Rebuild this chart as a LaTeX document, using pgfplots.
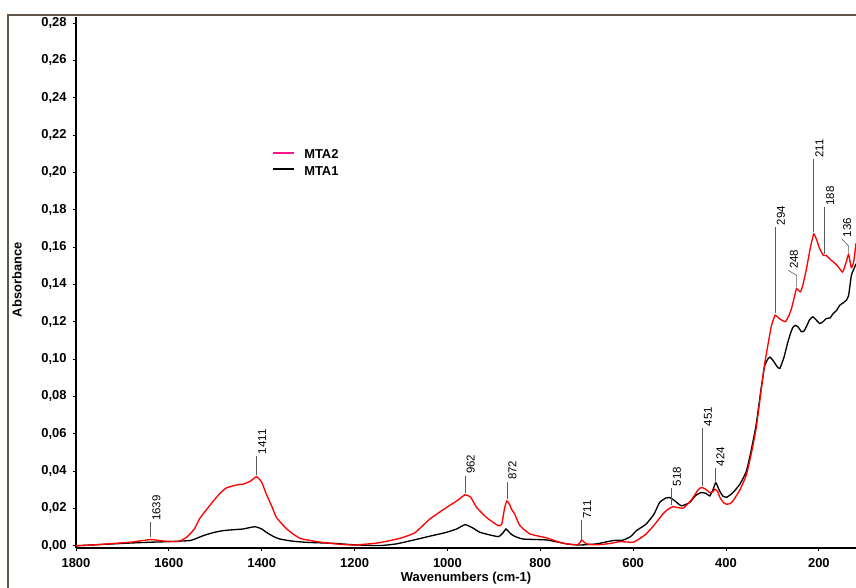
\documentclass[border=0pt]{standalone}
\usepackage{fontspec}
\setmainfont{Liberation Sans}
\usepackage{pgfplots}
\pgfplotsset{compat=1.18}
\definecolor{mtared}{RGB}{255,0,0}
\definecolor{mtapink}{RGB}{255,20,140}
\definecolor{leadgray}{RGB}{90,90,90}
\definecolor{framecol}{RGB}{95,85,75}
\newcommand{\pkfont}{\fontsize{8.6}{10}\selectfont}
\newcommand{\peak}[4]{%
  \draw[leadgray, line width=0.45pt] (axis cs:#1,#2) -- (axis cs:#1,#3);
  \node[rotate=90, anchor=north west, inner sep=1pt, font=\pkfont] at (axis cs:#1,#3) {#4};}
\begin{document}
\begin{tikzpicture}
\useasboundingbox (0pt,0pt) rectangle (642pt,441pt);
\draw[framecol, line width=0.8pt] (6pt,0pt) -- (6pt,429.75pt) -- (642pt,429.75pt);
\begin{axis}[
  at={(57pt,30pt)}, anchor=south west,
  scale only axis, width=585pt, height=398.25pt,
  x dir=reverse, xmin=120, xmax=1800,
  ymin=-0.0012, ymax=0.2832,
  axis lines=left, axis line style={-, line width=1.3pt},
  xtick={200,400,...,1800},
  ytick={0,0.02,...,0.281},
  tick align=outside, major tick length=2.5pt,
  tick style={black, line width=0.6pt},
  /pgf/number format/assume math mode=true,
  tick label style={font=\bfseries\fontsize{9.7}{11}\selectfont},
  x tick label style={/pgf/number format/set thousands separator={}, yshift=-2pt},
  y tick label style={/pgf/number format/.cd, use comma, fixed, fixed zerofill, precision=2, /tikz/.cd, xshift=-1pt},
  xlabel={Wavenumbers (cm-1)}, ylabel={Absorbance},
  label style={font=\bfseries\fontsize{9.7}{11}\selectfont},
  xlabel style={at={(axis description cs:0.5,-0.0565)}, anchor=center},
  ylabel style={at={(axis description cs:-0.0756,0.505)}, anchor=center, rotate=0},
  clip=true,
]
% MTA1 (black)
\addplot[black, line width=1pt, smooth, tension=0.3] coordinates {
(1800,0.0) (1760,0.0005) (1720,0.001) (1680,0.0015) (1640,0.0019) (1600,0.0022)
(1583,0.0024) (1554,0.0028) (1540,0.004) (1526,0.0054) (1505,0.007) (1483,0.0081)
(1460,0.0086) (1440,0.009) (1415,0.0102) (1400,0.009) (1390,0.0072) (1375,0.005)
(1361,0.0036) (1332,0.0024) (1300,0.0018) (1246,0.0013) (1200,0.0005) (1145,0.0001)
(1110,0.001) (1074,0.003) (1040,0.005) (1002,0.0072) (980,0.009) (962,0.0113)
(945,0.0095) (930,0.0072) (891,0.0049) (880,0.007) (874,0.009) (866,0.007)
(858,0.0054) (837,0.0036) (786,0.0031) (743,0.001) (715,0.0004) (679,0.001)
(643,0.0028) (622,0.003) (605,0.005) (593,0.0081) (572,0.0116) (555,0.017)
(543,0.0232) (530,0.0255) (521,0.0258) (510,0.024) (496,0.0214) (478,0.0232)
(465,0.027) (453,0.0285) (443,0.028) (435,0.0267) (428,0.030) (422,0.0338)
(415,0.030) (407,0.0267) (398,0.026) (385,0.0285) (370,0.033) (356,0.040)
(345,0.052) (335,0.065) (325,0.083) (317,0.096) (310,0.100) (305,0.101)
(298,0.099) (290,0.096) (284,0.095) (275,0.101) (268,0.108) (262,0.113)
(256,0.117) (250,0.118) (244,0.117) (238,0.1147) (232,0.115) (227,0.1173)
(220,0.121) (213,0.1226) (206,0.121) (198,0.119) (191,0.120) (184,0.1217)
(176,0.122) (169,0.1244) (162,0.126) (155,0.1288) (148,0.130) (141,0.1315)
(136,0.134) (130,0.1448) (125,0.148) (120,0.151)
};

% MTA2 (red)
\addplot[mtared, line width=1pt, smooth, tension=0.3] coordinates {
(1800,0.0) (1760,0.0005) (1720,0.0012) (1680,0.002) (1639,0.0033) (1610,0.0025)
(1580,0.0023) (1562,0.0045) (1545,0.009) (1533,0.0148) (1504,0.024) (1490,0.028)
(1476,0.031) (1455,0.0325) (1440,0.033) (1425,0.0345) (1411,0.037) (1400,0.034)
(1390,0.0276) (1378,0.021) (1368,0.015) (1346,0.009) (1318,0.004) (1275,0.002)
(1240,0.001) (1203,0.0004) (1150,0.0015) (1102,0.004) (1070,0.007) (1038,0.0143)
(1002,0.0205) (980,0.024) (962,0.0273) (950,0.026) (937,0.0205) (916,0.0152)
(891,0.0108) (883,0.0116) (877,0.02) (872,0.024) (866,0.022) (862,0.0196)
(855,0.0169) (844,0.0108) (822,0.0063) (786,0.0042) (760,0.002) (743,0.001)
(721,0.0005) (715,0.0015) (711,0.0031) (705,0.0018) (700,0.001) (679,0.0005)
(650,0.0012) (629,0.0022) (600,0.0019) (585,0.004) (572,0.0063) (555,0.011)
(536,0.017) (525,0.0195) (514,0.0209) (493,0.0201) (480,0.023) (471,0.0258)
(460,0.030) (453,0.0312) (445,0.0305) (435,0.0285) (428,0.029) (424,0.0303)
(418,0.029) (413,0.0258) (405,0.023) (399,0.0223) (392,0.0225) (385,0.024)
(370,0.030) (356,0.038) (345,0.050) (335,0.063) (325,0.082) (317,0.097)
(308,0.110) (302,0.118) (294,0.1235) (287,0.122) (281,0.121) (272,0.12)
(265,0.123) (259,0.127) (252,0.134) (248,0.1377) (240,0.136) (235,0.139)
(227,0.148) (218,0.160) (211,0.167) (205,0.164) (198,0.159) (190,0.1555)
(184,0.1555) (176,0.1535) (169,0.152) (160,0.150) (149,0.1466) (141,0.152)
(136,0.156) (130,0.149) (125,0.152) (120,0.162)
};

% legend (drawn by hand)
\draw[mtapink, line width=1.4pt] (axis description cs:0.2526,0.7439) -- (axis description cs:0.2790,0.7439);
\node[anchor=west, inner sep=0pt, font=\bfseries\fontsize{9.7}{11}\selectfont] at (axis description cs:0.2923,0.7420) {MTA2};
\draw[black, line width=1.4pt] (axis description cs:0.2526,0.7134) -- (axis description cs:0.2790,0.7134);
\node[anchor=west, inner sep=0pt, font=\bfseries\fontsize{9.7}{11}\selectfont] at (axis description cs:0.2923,0.7100) {MTA1};

\peak{1639}{0.0045}{0.0125}{1639}
\peak{1411}{0.038}{0.0482}{1411}
\peak{962}{0.0283}{0.0376}{962}
\peak{872}{0.025}{0.0344}{872}
\peak{711}{0.0036}{0.0136}{711}
\peak{518}{0.0216}{0.031}{518}
\peak{451}{0.0322}{0.0631}{451}
\peak{424}{0.0349}{0.0418}{424}
\peak{294}{0.1245}{0.1708}{294}
\peak{211}{0.168}{0.207}{211}
\peak{188}{0.1565}{0.1814}{188}
\draw[leadgray, line width=0.45pt] (axis cs:248,0.1387) -- (axis cs:248,0.1448) -- (axis cs:266,0.1475);
\node[rotate=90, anchor=north west, inner sep=1pt, font=\pkfont] at (axis cs:266,0.1475) {248};
\draw[leadgray, line width=0.45pt] (axis cs:136,0.157) -- (axis cs:136,0.1605) -- (axis cs:151,0.1645);
\node[rotate=90, anchor=north west, inner sep=1pt, font=\pkfont] at (axis cs:151,0.1645) {136};
\end{axis}
\end{tikzpicture}
\end{document}
